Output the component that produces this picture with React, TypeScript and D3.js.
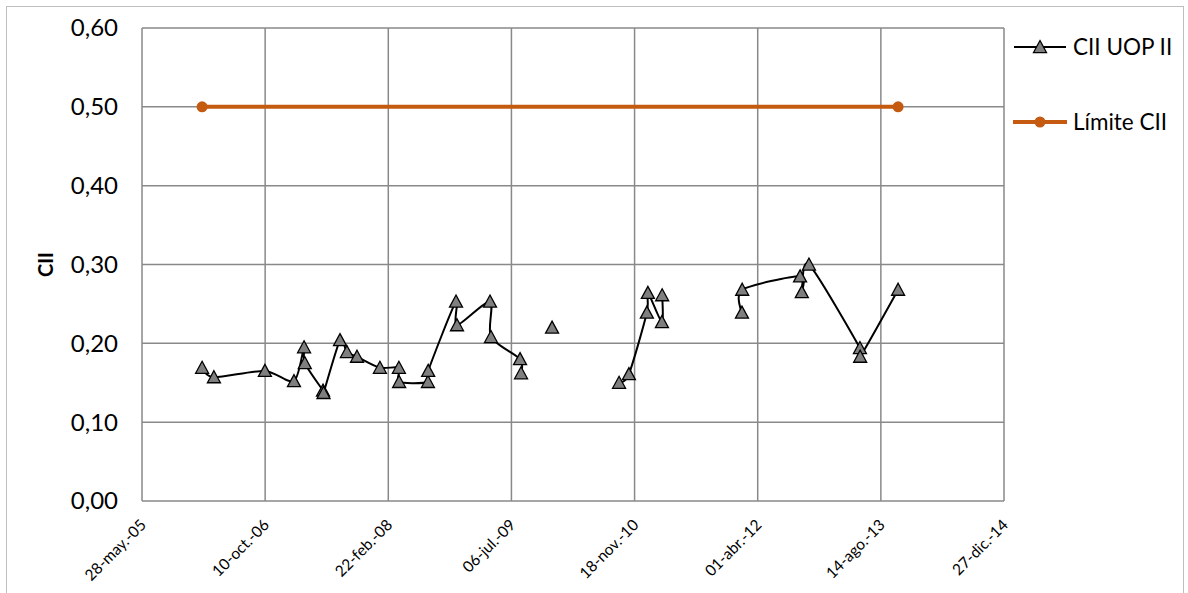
import React from "react";
import * as d3 from "d3";

// CII measurements (UOP II); null entries mark gaps in the series
const sampleDates: (string | null)[] = [
  "2006-01-27", "2006-03-16", "2006-10-09", "2007-02-04", "2007-03-17", "2007-03-20",
  "2007-06-02", "2007-06-04", "2007-08-10", "2007-09-07", "2007-10-18", "2008-01-19",
  "2008-04-05", "2008-04-06", "2008-08-01", "2008-08-02", "2008-11-23", "2008-11-27",
  "2009-04-10", "2009-04-14", "2009-08-10", "2009-08-14", null, "2009-12-18", null,
  "2010-09-16", "2010-10-26", "2011-01-07", "2011-01-11", "2011-03-09", "2011-03-10", null,
  "2012-01-28", "2012-01-29", "2012-09-20", "2012-09-27", "2012-10-26", "2013-05-21",
  "2013-05-22", "2013-10-23",
];
const ciiValues: (number | null)[] = [
  0.169, 0.157, 0.165, 0.152, 0.195, 0.175,
  0.14, 0.137, 0.204, 0.189, 0.183, 0.169,
  0.169, 0.151, 0.151, 0.165, 0.253, 0.223,
  0.253, 0.208, 0.18, 0.162, null, 0.22, null,
  0.15, 0.161, 0.239, 0.264, 0.227, 0.261, null,
  0.239, 0.268, 0.285, 0.265, 0.3, 0.194,
  0.183, 0.268,
];

// Regulatory limit
const limitDates = ["2006-01-27", "2013-10-23"];
const limitValues = [0.5, 0.5];

const xTickLabels = [
  "28-may.-05", "10-oct.-06", "22-feb.-08", "06-jul.-09",
  "18-nov.-10", "01-abr.-12", "14-ago.-13", "27-dic.-14",
];
const yTickValues = [0, 0.1, 0.2, 0.3, 0.4, 0.5, 0.6];
const seriesNames = ["CII UOP II", "Límite CII"];

const W = 1188;
const H = 593;
const plot = { left: 142, right: 1004, top: 28, bottom: 501 };
const FONT = "Lato, 'Open Sans', sans-serif";
const GRID = "#898989";
const ORANGE = "#C55A11";

const parse = (s: string) => new Date(s + "T00:00:00Z");
const DAY = 86400000;
const axisStart = parse("2005-05-28");
const tickDates = xTickLabels.map((_, i) => new Date(axisStart.getTime() + i * 500 * DAY));

const x = d3.scaleUtc().domain([tickDates[0], tickDates[tickDates.length - 1]]).range([plot.left, plot.right]);
const y = d3.scaleLinear().domain([0, 0.6]).range([plot.bottom, plot.top]);

type Pt = { d: Date | null; v: number | null };
const series: Pt[] = sampleDates.map((s, i) => ({ d: s ? parse(s) : null, v: ciiValues[i] }));
const limit = limitDates.map((s, i) => ({ d: parse(s), v: limitValues[i] }));

const seriesLine = d3
  .line<Pt>()
  .defined((p) => p.d !== null && p.v !== null)
  .x((p) => x(p.d as Date))
  .y((p) => y(p.v as number))
  .curve(d3.curveCardinal.tension(0.2));

const limitLine = d3
  .line<{ d: Date; v: number }>()
  .x((p) => x(p.d))
  .y((p) => y(p.v));

const fmt = (v: number) => v.toFixed(2).replace(".", ",");

function Triangle({ cx, cy }: { cx: number; cy: number }) {
  const s = 6.5;
  const p = `M${cx},${cy - s}L${cx + s},${cy + s * 0.85}L${cx - s},${cy + s * 0.85}Z`;
  return <path d={p} fill="#7F7F7F" stroke="#000" strokeWidth={1.3} strokeLinejoin="miter" />;
}

export default function App() {
  const pts = series.filter((p) => p.d !== null && p.v !== null);
  return (
    <svg width={W} height={H} style={{ position: "absolute", left: 0, top: 0, background: "#fff" }} fontFamily={FONT}>
      <rect x={6.5} y={6.5} width={1177} height={600} fill="#fff" stroke="#BFBFBF" strokeWidth={1} />

      {/* horizontal gridlines */}
      {yTickValues.map((v) => (
        <line key={"h" + v} x1={plot.left} x2={plot.right} y1={y(v)} y2={y(v)} stroke={GRID} strokeWidth={1.5} />
      ))}
      {/* vertical gridlines */}
      {tickDates.map((d, i) => (
        <line key={"v" + i} x1={x(d)} x2={x(d)} y1={plot.top} y2={plot.bottom} stroke={GRID} strokeWidth={1.5} />
      ))}

      {/* y tick labels */}
      {yTickValues.map((v) => (
        <text key={"yl" + v} x={118} y={y(v)} dy="0.35em" textAnchor="end" fontSize={24} fill="#000">
          {fmt(v)}
        </text>
      ))}
      <text transform={`translate(53,${y(0.3)}) rotate(-90)`} textAnchor="middle" fontSize={20} fontWeight="bold" fill="#000">
        CII
      </text>

      {/* x tick labels */}
      {tickDates.map((d, i) => (
        <text
          key={"xl" + i}
          transform={`translate(${x(d) + 5},${plot.bottom + 25}) rotate(-45)`}
          textAnchor="end"
          fontSize={15.5}
          fill="#000"
        >
          {xTickLabels[i]}
        </text>
      ))}

      {/* limit series */}
      <path d={limitLine(limit) ?? ""} fill="none" stroke={ORANGE} strokeWidth={4} />
      {limit.map((p, i) => (
        <circle key={"lc" + i} cx={x(p.d)} cy={y(p.v)} r={5.5} fill={ORANGE} />
      ))}

      {/* CII series */}
      <path d={seriesLine(series) ?? ""} fill="none" stroke="#000" strokeWidth={2} />
      {pts.map((p, i) => (
        <Triangle key={"t" + i} cx={x(p.d as Date)} cy={y(p.v as number)} />
      ))}

      {/* legend */}
      <g>
        <line x1={1014} x2={1066} y1={47} y2={47} stroke="#000" strokeWidth={2} />
        <Triangle cx={1040} cy={47} />
        <text x={1073} y={47} dy="0.35em" fontSize={22.5} fill="#000">
          {seriesNames[0]}
        </text>
        <line x1={1013} x2={1067} y1={122} y2={122} stroke={ORANGE} strokeWidth={4} />
        <circle cx={1040} cy={122} r={5.5} fill={ORANGE} />
        <text x={1073} y={122} dy="0.35em" fontSize={22.5} fill="#000">
          {seriesNames[1]}
        </text>
      </g>
    </svg>
  );
}
